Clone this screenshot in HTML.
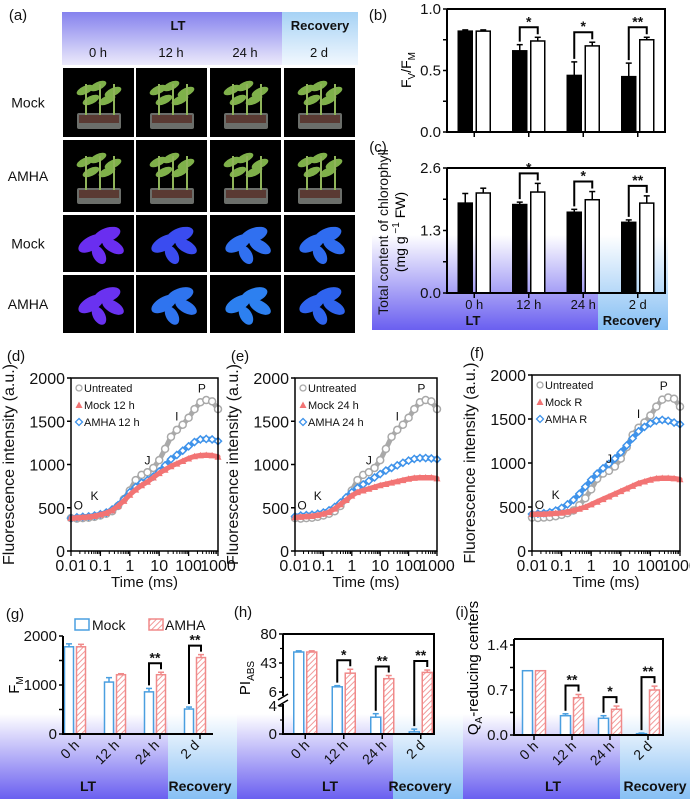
<!DOCTYPE html>
<html><head><meta charset="utf-8"><style>
html,body{margin:0;padding:0;background:#fff}
svg{display:block;font-family:"Liberation Sans",Arial,sans-serif}
</style></head><body>
<svg id="fig" width="690" height="799" viewBox="0 0 690 799" xmlns="http://www.w3.org/2000/svg">
<defs>
<linearGradient id="hdrLT" x1="0" y1="0" x2="0" y2="1"><stop offset="0" stop-color="#8582ee"/><stop offset="1" stop-color="#eceafb"/></linearGradient>
<linearGradient id="hdrR" x1="0" y1="0" x2="0" y2="1"><stop offset="0" stop-color="#a6d2f5"/><stop offset="1" stop-color="#f2f8fe"/></linearGradient>
<linearGradient id="botLT" x1="0" y1="0" x2="0" y2="1"><stop offset="0" stop-color="#ffffff"/><stop offset="1" stop-color="#6a5ff0"/></linearGradient>
<linearGradient id="botR" x1="0" y1="0" x2="0" y2="1"><stop offset="0" stop-color="#ffffff"/><stop offset="1" stop-color="#86bff4"/></linearGradient>
<pattern id="hatch" width="4" height="4" patternUnits="userSpaceOnUse" patternTransform="rotate(45)"><rect width="4" height="4" fill="#fff"/><line x1="0" y1="0" x2="0" y2="4" stroke="#f29a9a" stroke-width="2"/></pattern>
</defs>
<g id="bg"></g>
<g id="panelA"></g>
<g id="charts"></g>
</svg>
<script>
// ---------- data ----------
const groups = ["0 h","12 h","24 h","2 d"];
const fvMock = [0.82,0.66,0.46,0.45];
const fvMockErr = [0.01,0.05,0.11,0.11];
const fvAmha = [0.82,0.74,0.70,0.75];
const fvAmhaErr = [0.01,0.03,0.03,0.02];
const fvSig = ["","*","*","**"];
const chlMock = [1.87,1.84,1.68,1.47];
const chlMockErr = [0.2,0.05,0.06,0.05];
const chlAmha = [2.08,2.10,1.94,1.87];
const chlAmhaErr = [0.1,0.18,0.17,0.15];
const chlSig = ["","*","*","**"];
const logTimes = [-2,-1.8,-1.6,-1.4,-1.2,-1,-0.8,-0.6,-0.4,-0.2,0,0.2,0.4,0.6,0.8,1,1.2,1.4,1.6,1.8,2,2.2,2.4,2.6,2.8,3];
const untreated = [380,375,380,385,395,410,430,460,520,600,700,820,880,910,960,1050,1180,1320,1400,1460,1540,1640,1720,1745,1730,1640];
const mock12 = [380,385,390,395,405,420,440,470,520,580,650,710,760,800,850,900,940,980,1010,1040,1070,1095,1105,1110,1105,1090];
const amha12 = [380,390,395,400,410,425,445,480,530,600,680,740,790,820,860,920,990,1060,1110,1160,1210,1260,1290,1295,1290,1270];
const mock24 = [390,395,400,405,415,430,450,490,540,590,640,680,700,720,740,760,775,790,805,820,835,845,850,850,850,840];
const amha24 = [400,410,415,420,430,445,470,510,560,620,680,730,770,810,850,890,930,960,990,1020,1045,1065,1075,1075,1070,1060];
const mockR = [420,420,420,425,430,435,445,460,480,500,530,560,590,620,650,680,710,740,770,790,810,825,830,830,825,815];
const amhaR = [420,425,430,440,460,490,530,580,650,730,810,880,940,990,1050,1120,1200,1280,1360,1410,1450,1480,1490,1480,1460,1440];
const timeTicks = ["0.01","0.1","1","10","100","1000"];
const fmMock = [1780,1060,860,510];
const fmMockErr = [60,90,70,40];
const fmAmha = [1780,1210,1210,1560];
const fmAmhaErr = [50,20,50,60];
const fmSig = ["","","**","**"];
const piMock = [57,12.6,2.4,0.3];
const piMockErr = [1.5,1.5,0.5,0.4];
const piAmha = [57,30,23,31];
const piAmhaErr = [1.5,5,4,3];
const piSig = ["","*","**","**"];
const qaMock = [1.0,0.30,0.26,0.02];
const qaMockErr = [0,0.03,0.04,0.01];
const qaAmha = [1.0,0.58,0.40,0.70];
const qaAmhaErr = [0,0.05,0.05,0.06];
const qaSig = ["","**","*","**"];

const NS="http://www.w3.org/2000/svg";
function mk(parent,tag,attrs,text){const e=document.createElementNS(NS,tag);for(const k in attrs)e.setAttribute(k,attrs[k]);if(text!==undefined)e.textContent=text;parent.appendChild(e);return e;}
const bg=document.getElementById('bg'), pa=document.getElementById('panelA'), ch=document.getElementById('charts');

// ---------- backgrounds ----------
let r;
r=mk(bg,'rect',{x:62,y:12,width:220,height:53,fill:'url(#hdrLT)'});

r=mk(bg,'rect',{x:282,y:12,width:76,height:53,fill:'url(#hdrR)'});

r=mk(bg,'rect',{x:372,y:235,width:226,height:95,fill:'url(#botLT)'});

r=mk(bg,'rect',{x:598,y:235,width:70,height:95,fill:'url(#botR)'});

[[0,168,237],[237,393,463],[463,620,690]].forEach((b,i)=>{
  let a=mk(bg,'rect',{x:b[0],y:714,width:b[1]-b[0],height:85,fill:'url(#botLT)'});
  
  let c=mk(bg,'rect',{x:b[1],y:714,width:b[2]-b[1],height:85,fill:'url(#botR)'});
  
});

// ---------- panel a ----------
function txt(p,x,y,s,size,opts){const t=mk(p,'text',Object.assign({x:x,y:y,'font-size':size,fill:'#111','text-anchor':'middle'},opts||{}),s);return t;}
let t;
t=txt(pa,18,20,'(a)',15);
t=txt(pa,178,30,'LT',13,{'font-weight':'bold'});
t=txt(pa,320,30,'Recovery',13,{'font-weight':'bold'});
const colX=[63,136,210,284], rowY=[68,140,215,275], rowH=[69,72,57,58];
groups.forEach((g,i)=>{t=txt(pa,colX[i]+35,57,g,13);});
["Mock","AMHA","Mock","AMHA"].forEach((s,i)=>{t=txt(pa,28,rowY[i]+rowH[i]/2+5,s,14);});
const fluor=[["#6a2ef0","#3a4cf0","#3070f0","#2f6cf0"],["#6a32f0","#2f74ef","#2d80f0","#2f64ee"]];
for(let ri=0;ri<4;ri++)for(let ci=0;ci<4;ci++){
  const x=colX[ci],y=rowY[ri],h=rowH[ri];
  const cell=mk(pa,'g',{});
  
  mk(cell,'rect',{x:x,y:y,width:71,height:h,fill:'#000'});
  if(ri<2){
    mk(cell,'rect',{x:x+14,y:y+h-24,width:44,height:16,fill:'#6b6e6a',rx:2});
    mk(cell,'rect',{x:x+16,y:y+h-22,width:40,height:8,fill:'#5a3a33'});
    [[22,22],[35,18],[50,24],[28,32],[44,32]].forEach(p=>mk(cell,'ellipse',{cx:x+p[0],cy:y+p[1],rx:9,ry:4,fill:'#7fb04a',transform:`rotate(-25 ${x+p[0]} ${y+p[1]})`}));
    [22,36,50].forEach(px=>mk(cell,'rect',{x:x+px,y:y+16,width:2,height:h-38,fill:'#8fb45a'}));
  } else {
    const c=fluor[ri-2][ci];
    [[28,h*0.5,14,7,-30],[44,h*0.35,14,7,-20],[36,h*0.7,10,6,60],[50,h*0.55,12,6,30]].forEach(p=>mk(cell,'ellipse',{cx:x+p[0],cy:y+p[1],rx:p[2],ry:p[3],fill:c,transform:`rotate(${p[4]} ${x+p[0]} ${y+p[1]})`}));
  }
}

// ---------- generic bar chart ----------
function barChart(o){
  const g=mk(ch,'g',{});
  
  const Y=v=>o.yScale(v);
  const bx0=o.bx0!==undefined?o.bx0:o.x0, bx1=o.bx1!==undefined?o.bx1:o.x1;
  const band=(bx1-bx0)/o.cats.length;
  const cx=i=>bx0+band*(i+0.5);
  o.yTicks.forEach((tv,i)=>{
    const y=Y(tv);
    mk(g,'line',{x1:o.x0-4,y1:y,x2:o.x0,y2:y,stroke:'#000','stroke-width':1.5});
    if(o.yLabels[i]!==''){const tt=txt(g,o.x0-6,y+5,o.yLabels[i],o.tickSize||14,{'text-anchor':'end'});}
  });
  (o.minor||[]).forEach(tv=>{const y=Y(tv);mk(g,'line',{x1:o.x0-3,y1:y,x2:o.x0,y2:y,stroke:'#000','stroke-width':1.2});});
  o.cats.forEach((c,i)=>{
    const x=cx(i);
    const tx=o.tickShift?x+o.tickShift:x;
    mk(g,'line',{x1:tx,y1:o.yb,x2:tx,y2:o.yb+5,stroke:'#000','stroke-width':1.5});
    const w=o.bw, gap=o.gap;
    const mx=x-gap/2-w, ax=x+gap/2;
    const mv=o.mock[i], av=o.amha[i];
    const mb=mk(g,'rect',{x:mx,y:Y(mv),width:w,height:o.yb-Y(mv),fill:o.mFill,stroke:o.mStroke,'stroke-width':1.5});
    
    const ab=mk(g,'rect',{x:ax,y:Y(av),width:w,height:o.yb-Y(av),fill:o.aFill,stroke:o.aStroke,'stroke-width':1.5});
    
    [[mx+w/2,mv,o.mErr[i],o.mStroke],[ax+w/2,av,o.aErr[i],o.aStroke]].forEach(e=>{
      if(e[2]>0){const y2=Y(e[1]+e[2]);mk(g,'line',{x1:e[0],y1:Y(e[1]),x2:e[0],y2:y2,stroke:e[3],'stroke-width':1.5});mk(g,'line',{x1:e[0]-3,y1:y2,x2:e[0]+3,y2:y2,stroke:e[3],'stroke-width':1.5});}
    });
    if(o.sig[i]){
      const ym=Y(mv+o.mErr[i])-3, ya=Y(av+o.aErr[i])-3, top=Math.min(ym,ya)-o.bh;
      const br=mk(g,'path',{d:`M${mx+w/2},${ym}V${top}H${ax+w/2}V${ya}`,fill:'none',stroke:'#000','stroke-width':2});
      
      const st=txt(g,x,top-1,o.sig[i],14,{'font-weight':'bold'});
    }
    if(o.catLabels==='flat'){const tl=txt(g,x,o.yb+16,c,13);}
    else if(o.catLabels==='rot'){const tl=txt(g,x+5,o.yb+12,c,14,{'text-anchor':'end',transform:`rotate(-45 ${x+5} ${o.yb+12})`});}
  });
  const xr=o.axisRight!==undefined?o.axisRight:o.x1;
  const yt=o.boxTop!==undefined?o.boxTop:o.yt;
  const ax=mk(g,'path',{d:`M${o.x0},${yt}V${o.yb}H${xr}`+(o.box?`V${yt}H${o.x0}`:''),fill:'none',stroke:'#000','stroke-width':2});
  
  return g;
}
const lin=(v0,v1,p0,p1)=>v=>p0+(v-v0)*(p1-p0)/(v1-v0);

// b
let gb=barChart({name:'panel-b-fv-fm',x0:447,x1:665,yt:9,yb:132,yScale:lin(0,1,132,9),yTicks:[0,0.25,0.5,0.75,1],yLabels:['0.0','','0.5','','1.0'],cats:groups,mock:fvMock,mErr:fvMockErr,amha:fvAmha,aErr:fvAmhaErr,sig:fvSig,bw:14,gap:4,mFill:'#000',mStroke:'#000',aFill:'#fff',aStroke:'#000',bh:7,box:true,catLabels:'none',tickSize:15});
t=txt(gb,378,20,'(b)',15);
t=mk(gb,'text',{x:0,y:0,'font-size':14,'text-anchor':'middle',transform:'translate(411,70) rotate(-90)'});t.innerHTML='F<tspan font-size="10" dy="4">V</tspan><tspan dy="-4">/F</tspan><tspan font-size="10" dy="4">M</tspan>';

// c
let gc=barChart({name:'panel-c-chlorophyll',x0:447,x1:665,yt:168,yb:293,yScale:lin(0,2.6,293,168),yTicks:[0,0.65,1.3,1.95,2.6],yLabels:['0.0','','1.3','','2.6'],cats:groups,mock:chlMock,mErr:chlMockErr,amha:chlAmha,aErr:chlAmhaErr,sig:chlSig,bw:14,gap:4,mFill:'#000',mStroke:'#000',aFill:'#fff',aStroke:'#000',bh:7,box:true,catLabels:'flat',tickSize:15});
t=txt(gc,378,152,'(c)',15);
t=txt(gc,473,325,'LT',13,{'font-weight':'bold'});
t=txt(gc,632,325,'Recovery',13,{'font-weight':'bold'});
t=txt(gc,0,0,'Total content of chlorophyll',14,{transform:'translate(388,232) rotate(-90)'});
t=mk(gc,'text',{x:0,y:0,'font-size':14,'text-anchor':'middle',transform:'translate(405,232) rotate(-90)'});t.innerHTML='(mg g<tspan font-size="10" dy="-6"> −1</tspan><tspan dy="6"> FW)</tspan>';


// ---------- OJIP line panels ----------
function ojip(o){
  const g=mk(ch,'g',{});
  
  const X=lin(-2,3,o.x0,o.x1), Y=lin(0,2000,o.yb,o.yt);
  [0,500,1000,1500,2000].forEach(v=>{
    mk(g,'line',{x1:o.x0-4,y1:Y(v),x2:o.x0,y2:Y(v),stroke:'#000','stroke-width':1.5});
    const tt=txt(g,o.x0-6,Y(v)+6,String(v),16,{'text-anchor':'end'});
  });
  timeTicks.forEach((s,i)=>{
    const x=X(Math.log10(parseFloat(s)));
    mk(g,'line',{x1:x,y1:o.yb,x2:x,y2:o.yb+5,stroke:'#000','stroke-width':1.3});
    for(let k=2;k<10&&i<5;k++){const xm=X(Math.log10(parseFloat(s)*k));mk(g,'line',{x1:xm,y1:o.yb,x2:xm,y2:o.yb+3,stroke:'#000','stroke-width':1});}
    const tt=txt(g,x,o.yb+20,s,16);
  });
  const series=[[untreated,'#a9a9a9','untreated'],[o.mock,'#f27474','mock'],[o.amha,'#3f93ea','amha']];
  [0,2,1].forEach(si=>{
    const [arr,col,nm]=series[si];
    const pts=arr.map((v,i)=>X(logTimes[i]).toFixed(1)+','+Y(v).toFixed(1)).join(' ');
    const pl=mk(g,'polyline',{points:pts,fill:'none',stroke:col,'stroke-width':5,'stroke-linejoin':'round','stroke-linecap':'round'});
    
    arr.forEach((v,i)=>{const x=X(logTimes[i]),y=Y(v);
      if(si===0)mk(g,'circle',{cx:x,cy:y,r:3.5,fill:'#fff',stroke:col,'stroke-width':1.5});
      else if(si===1)mk(g,'path',{d:`M${x},${y-3.5}L${x+3.5},${y+3}L${x-3.5},${y+3}Z`,fill:col});
      else mk(g,'path',{d:`M${x},${y-3.5}L${x+3.5},${y}L${x},${y+3.5}L${x-3.5},${y}Z`,fill:'#fff',stroke:col,'stroke-width':1.5});
    });
  });
  mk(g,'path',{d:`M${o.x0},${o.yt}V${o.yb}H${o.x1}V${o.yt}Z`,fill:'none',stroke:'#000','stroke-width':1.5});
  const lx=o.x0+8;
  [['Untreated','#a9a9a9',0],[o.labels[0],'#f27474',1],[o.labels[1],'#3f93ea',2]].forEach((L,i)=>{
    const y=o.yt+10+i*17;
    if(L[2]===0)mk(g,'circle',{cx:lx,cy:y,r:3,fill:'#fff',stroke:L[1],'stroke-width':1.3});
    else if(L[2]===1)mk(g,'path',{d:`M${lx},${y-3.5}L${lx+3.5},${y+3}L${lx-3.5},${y+3}Z`,fill:L[1]});
    else mk(g,'path',{d:`M${lx},${y-3.5}L${lx+3.5},${y}L${lx},${y+3.5}L${lx-3.5},${y}Z`,fill:'#fff',stroke:L[1],'stroke-width':1.3});
    const tt=txt(g,lx+5,y+4,L[0],11,{'text-anchor':'start'});
  });
  [['O',-1.75,480],['K',-1.2,590],['J',0.6,1000],['I',1.6,1510],['P',2.45,1830]].forEach(p=>{
    const tt=txt(g,X(p[1]),Y(p[2]),p[0],12);});
  let tl=txt(g,(o.x0+o.x1)/2,o.yb+36,'Time (ms)',15);
  tl=txt(g,0,0,'Fluorescence intensity (a.u.)',16,{transform:`translate(${o.x0-57},${(o.yt+o.yb)/2}) rotate(-90)`});
  tl=txt(g,o.x0-55,o.yt-17,o.tag,15);
}
ojip({name:'panel-d-ojip-12h',x0:71,x1:218,yt:378,yb:551,mock:mock12,amha:amha12,labels:['Mock 12 h','AMHA 12 h'],tag:'(d)'});
ojip({name:'panel-e-ojip-24h',x0:295,x1:437,yt:378,yb:551,mock:mock24,amha:amha24,labels:['Mock 24 h','AMHA 24 h'],tag:'(e)'});
ojip({name:'panel-f-ojip-recovery',x0:532,x1:680,yt:375,yb:551,mock:mockR,amha:amhaR,labels:['Mock R','AMHA R'],tag:'(f)'});

// ---------- g h i ----------
const cm='#4a9fe0', ca='#f08a8a';
let gg=barChart({name:'panel-g-fm',x0:63,x1:213,bx0:55,bx1:215,axisRight:213,yt:636,yb:734,yScale:lin(0,2000,734,636),yTicks:[0,500,1000,1500,2000],yLabels:['0','','1000','','2000'],cats:groups,mock:fmMock,mErr:fmMockErr,amha:fmAmha,aErr:fmAmhaErr,sig:fmSig,bw:9,gap:3,mFill:'#fff',mStroke:cm,aFill:'url(#hatch)',aStroke:ca,bh:6,box:false,catLabels:'rot',tickSize:15,tickShift:5});
t=txt(gg,15,619,'(g)',15);
t=mk(gg,'text',{x:0,y:0,'font-size':15,'text-anchor':'middle',transform:'translate(19,685) rotate(-90)'});t.innerHTML='F<tspan font-size="10" dy="4">M</tspan>';
r=mk(gg,'rect',{x:75,y:619,width:14,height:11,fill:'#fff',stroke:cm,'stroke-width':1.5});
t=txt(gg,92,630,'Mock',14,{'text-anchor':'start'});
r=mk(gg,'rect',{x:149,y:619,width:14,height:11,fill:'url(#hatch)',stroke:ca,'stroke-width':1.5});
t=txt(gg,165,630,'AMHA',14,{'text-anchor':'start'});

const piScale=v=>v<=6?734-v*7:692-(v-6)*0.784;
let gh=barChart({name:'panel-h-piabs',x0:283,x1:434,bx0:286,bx1:440,yt:634,yb:734,yScale:piScale,yTicks:[0,4,6,43,80],yLabels:['0','4','6','43','80'],minor:[2,24.5,61.5],cats:groups,mock:piMock,mErr:piMockErr,amha:piAmha,aErr:piAmhaErr,sig:piSig,bw:10,gap:3,mFill:'#fff',mStroke:cm,aFill:'url(#hatch)',aStroke:ca,bh:6,box:true,catLabels:'rot',tickSize:15});
mk(gh,'rect',{x:278,y:696,width:10,height:8,fill:'#fff'});
mk(gh,'line',{x1:278,y1:700,x2:288,y2:694,stroke:'#000','stroke-width':1.5});
mk(gh,'line',{x1:278,y1:706,x2:288,y2:700,stroke:'#000','stroke-width':1.5});
t=txt(gh,243,617,'(h)',15);
t=mk(gh,'text',{x:0,y:0,'font-size':15,'text-anchor':'middle',transform:'translate(250,678) rotate(-90)'});t.innerHTML='PI<tspan font-size="10" dy="4">ABS</tspan>';

let gi=barChart({name:'panel-i-qa-reducing',x0:514,x1:663,bx0:515,bx1:667,boxTop:639,yt:645,yb:735,yScale:lin(0,1.4,735,645),yTicks:[0,0.35,0.7,1.05,1.4],yLabels:['0.0','','0.7','','1.4'],cats:groups,mock:qaMock,mErr:qaMockErr,amha:qaAmha,aErr:qaAmhaErr,sig:qaSig,bw:10,gap:3,mFill:'#fff',mStroke:cm,aFill:'url(#hatch)',aStroke:ca,bh:6,box:true,catLabels:'rot',tickSize:15});
t=txt(gi,462,617,'(i)',15);
t=mk(gi,'text',{x:0,y:0,'font-size':15,'text-anchor':'middle',transform:'translate(478,668) rotate(-90)'});t.innerHTML='Q<tspan font-size="10" dy="4">A</tspan><tspan dy="-4">-reducing centers</tspan>';

[[88,200],[330,420],[553,655]].forEach(p=>{
  t=txt(ch,p[0],791,'LT',14,{'font-weight':'bold'});
  t=txt(ch,p[1],791,'Recovery',14,{'font-weight':'bold'});
});
</script>
</body></html>
